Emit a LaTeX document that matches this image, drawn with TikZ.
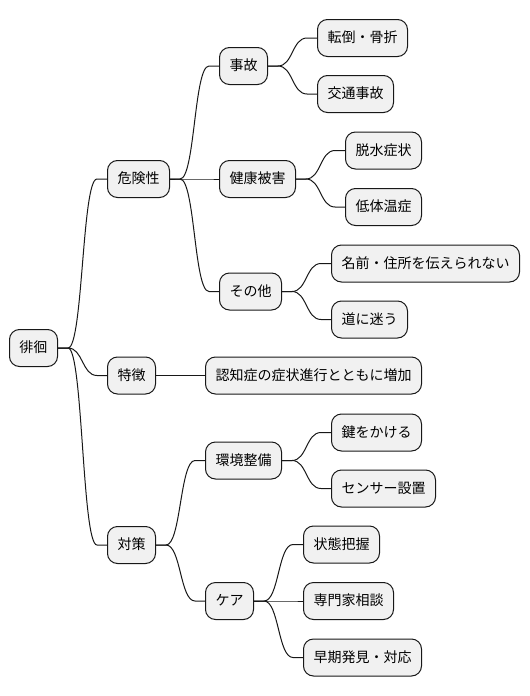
\documentclass[tikz,border=0pt]{standalone}
\usepackage{fontspec}
\setmainfont{Noto Sans CJK JP}
\definecolor{boxfill}{HTML}{F1F1F1}
\definecolor{boxline}{HTML}{181818}
\tikzset{
  mmbox/.style={draw=boxline, fill=boxfill, line width=1pt, rounded corners=10pt,
    minimum height=37pt, inner xsep=10pt, inner ysep=0pt, anchor=west,
    font=\fontsize{14pt}{16pt}\selectfont, text height=11.5pt, text depth=2pt},
  conn/.style={draw=boxline, line width=1pt}
}
\begin{document}
\begin{tikzpicture}[x=1pt,y=-1pt]
\useasboundingbox (0,0) rectangle (530,696);
\node[mmbox] (r) at (9,348) {徘徊};
\node[mmbox] (d) at (107,179) {危険性};
\node[mmbox] (t) at (107,375.5) {特徴};
\node[mmbox] (s) at (107,545) {対策};
\node[mmbox] (j) at (219,66) {事故};
\node[mmbox] (k) at (219,179) {健康被害};
\node[mmbox] (o) at (219,291.5) {その他};
\node[mmbox] (n) at (205,375.5) {認知症の症状進行とともに増加};
\node[mmbox] (e) at (205,460.5) {環境整備};
\node[mmbox] (c) at (205,601) {ケア};
\node[mmbox] (j1) at (317,38) {転倒・骨折};
\node[mmbox] (j2) at (317,94) {交通事故};
\node[mmbox] (k1) at (345,150.5) {脱水症状};
\node[mmbox] (k2) at (345,207) {低体温症};
\node[mmbox] (o1) at (331,263.5) {名前・住所を伝えられない};
\node[mmbox] (o2) at (331,319.5) {道に迷う};
\node[mmbox] (e1) at (331,432.5) {鍵をかける};
\node[mmbox] (e2) at (331,488.5) {センサー設置};
\node[mmbox] (c1) at (303,544.5) {状態把握};
\node[mmbox] (c2) at (303,601) {専門家相談};
\node[mmbox] (c3) at (303,657.5) {早期発見・対応};
\foreach \a/\b in {r/d,r/t,r/s,d/j,d/k,d/o,t/n,s/e,s/c,j/j1,j/j2,k/k1,k/k2,o/o1,o/o2,e/e1,e/e2,c/c1,c/c2,c/c3}
  \draw[conn] (\a.east) -- ++(10,0) .. controls +(15,0) and +(-15,0) .. ([xshift=-10pt]\b.west) -- (\b.west);
\end{tikzpicture}
\end{document}
